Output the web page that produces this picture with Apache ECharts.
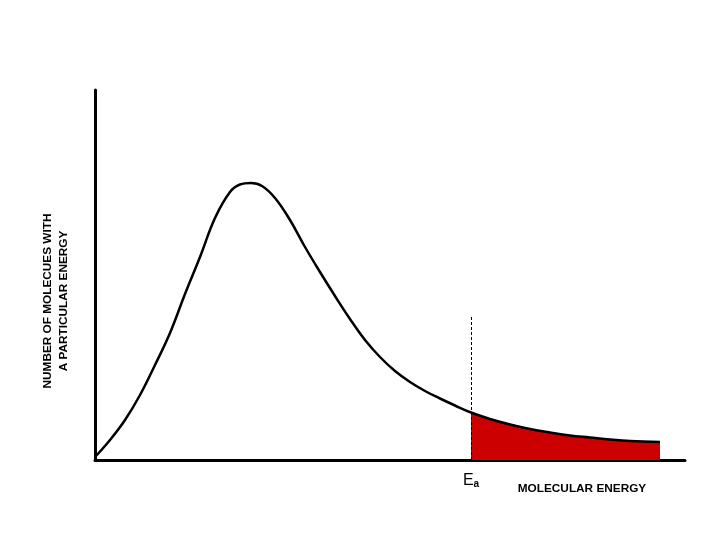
<!DOCTYPE html>
<html>
<head>
<meta charset="utf-8">
<script src="https://cdn.jsdelivr.net/npm/echarts@6/dist/echarts.min.js"></script>
<style>
  html, body { margin: 0; padding: 0; background: #fff; }
</style>
</head>
<body>
<div id="chart" style="width: 720px; height: 540px;"></div>
<script>
// energy (arbitrary units) and number of molecules
const energy = [0, 1.5, 3, 4.5, 6, 7.5, 9, 10.5, 12, 13.5, 14.5, 15.6, 16.7, 18, 19.5, 21, 22.5, 24, 25.5, 27, 28.5, 30, 31.5, 33, 34.5, 36, 37.6, 39.5, 41.5, 43.5, 45.5, 47.5, 49.5, 51.5, 53.5, 56.5];
const molecules = [0.3, 2.0, 4.0, 6.5, 9.5, 12.7, 16.6, 20.3, 24.2, 26.8, 27.55, 27.7, 27.4, 26.2, 24.0, 21.3, 18.8, 16.4, 14.1, 12.0, 10.3, 8.9, 7.8, 6.9, 6.15, 5.45, 4.75, 4.1, 3.55, 3.1, 2.75, 2.45, 2.25, 2.05, 1.9, 1.8];
const activationEnergy = 37.6;
const dashTop = 14.5;

const curve = energy.map((x, i) => [x, molecules[i]]);
const tail = curve.filter(p => p[0] >= activationEnergy);

const chart = echarts.init(document.getElementById('chart'));

const option = {
    animation: false,
    backgroundColor: '#fff',
    grid: { left: 95, right: 35, top: 90, bottom: 80 },
    xAxis: {
        type: 'value',
        min: 0,
        max: 59,
        axisLine: { show: true, lineStyle: { color: '#000', width: 3 } },
        axisTick: { show: false },
        splitLine: { show: false },
        axisLabel: {
            customValues: [activationEnergy],
            margin: 10,
            formatter: () => '{e|E}{a|a}',
            rich: {
                e: { fontFamily: 'Liberation Sans', fontSize: 16, color: '#000', verticalAlign: 'bottom' },
                a: { fontFamily: 'Liberation Sans', fontSize: 10, fontWeight: 'bold', color: '#000', padding: [9, 0, 0, 0], verticalAlign: 'bottom' }
            }
        }
    },
    yAxis: {
        type: 'value',
        min: 0,
        max: 37,
        axisLine: { show: true, lineStyle: { color: '#000', width: 3 } },
        axisTick: { show: false },
        axisLabel: { show: false },
        splitLine: { show: false }
    },
    graphic: [
        {
            type: 'text',
            x: 56,
            y: 301,
            rotation: Math.PI / 2,
            style: {
                text: 'NUMBER OF MOLECUES WITH\nA PARTICULAR ENERGY',
                font: 'bold 11.8px "Liberation Sans"',
                fill: '#000',
                align: 'center',
                verticalAlign: 'middle',
                lineHeight: 16
            }
        },
        {
            type: 'text',
            x: 582,
            y: 489,
            style: {
                text: 'MOLECULAR ENERGY',
                font: 'bold 11.8px "Liberation Sans"',
                fill: '#000',
                align: 'center',
                verticalAlign: 'middle'
            }
        }
    ],
    series: [
        {
            name: 'tail',
            type: 'line',
            data: tail,
            smooth: 0.4,
            symbol: 'none',
            lineStyle: { width: 0 },
            areaStyle: { color: '#cc0000', opacity: 1 },
            z: 1
        },
        {
            name: 'curve',
            type: 'line',
            data: curve,
            smooth: 0.4,
            symbol: 'none',
            lineStyle: { color: '#000', width: 2.5 },
            z: 2,
            markLine: {
                silent: true,
                symbol: 'none',
                label: { show: false },
                lineStyle: { color: '#000', type: [3, 2], width: 1 },
                data: [[{ coord: [activationEnergy, 0] }, { coord: [activationEnergy, dashTop] }]]
            }
        }
    ]
};

chart.setOption(option);
</script>
</body>
</html>
